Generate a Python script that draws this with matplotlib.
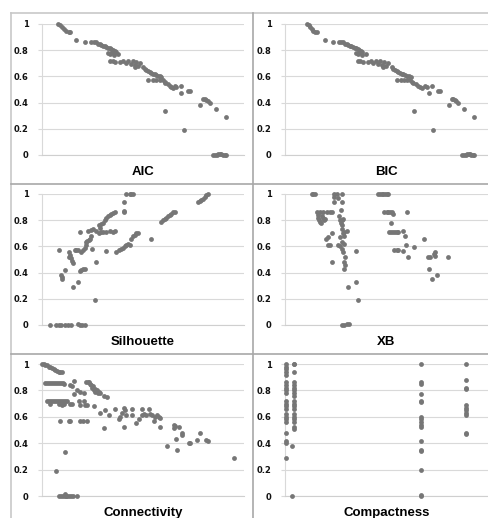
import matplotlib
matplotlib.use("Agg")
import matplotlib.pyplot as plt
from matplotlib.lines import Line2D

# ranks (x) and normalised scores (y) for each validity index
aic_x = [16, 18, 20, 22, 24, 27, 28, 34, 43,
         49, 52, 54, 56, 58, 59, 61, 63, 64, 66, 68, 69, 71, 73, 74, 66, 68, 70, 72,
         68, 71, 73, 76,
         78, 81, 84, 86, 89, 91, 93, 94, 96, 98, 93,
         101, 103, 104, 106, 108, 109, 111, 113, 114, 116, 118, 119,
         106, 111, 114, 118, 121, 123,
         123, 126, 128, 129, 131, 133, 134,
         123, 139, 139, 146, 148, 142, 158,
         161, 163, 164, 166, 168, 174, 184,
         171, 173, 175, 176, 178, 179, 181, 183, 184]
aic_y = [1.0, 0.99, 0.975, 0.965, 0.95, 0.94, 0.94, 0.88, 0.86,
         0.865, 0.865, 0.86, 0.85, 0.845, 0.84, 0.835, 0.83, 0.825, 0.82, 0.815, 0.81, 0.80, 0.795, 0.79, 0.78, 0.77, 0.785, 0.76,
         0.72, 0.715, 0.71, 0.77,
         0.71, 0.715, 0.70, 0.72, 0.695, 0.715, 0.69, 0.71, 0.68, 0.70, 0.67,
         0.67, 0.66, 0.65, 0.64, 0.63, 0.625, 0.62, 0.615, 0.61, 0.605, 0.60, 0.595,
         0.57, 0.57, 0.57, 0.57, 0.57, 0.56,
         0.55, 0.54, 0.53, 0.52, 0.515, 0.525, 0.52,
         0.335, 0.525, 0.475, 0.49, 0.49, 0.19, 0.38,
         0.43, 0.425, 0.42, 0.41, 0.40, 0.35, 0.29,
         0.0, 0.0, 0.0, 0.005, 0.01, 0.005, 0.0, 0.0, 0.0]

bic_x = [22, 24, 25, 27, 28, 30, 32, 40, 48,
         54, 56, 58, 60, 62, 63, 65, 66, 68, 70, 71, 73, 74, 76, 77, 71, 73, 75, 77,
         73, 75, 78, 81,
         83, 86, 88, 91, 93, 95, 97, 99, 101, 103, 98,
         107, 108, 110, 112, 113, 115, 117, 118, 120, 122, 124, 126,
         112, 116, 119, 122, 125, 127,
         128, 131, 133, 135, 137, 140, 142,
         129, 147, 144, 153, 155, 148, 164,
         167, 168, 170, 171, 173, 179, 189,
         177, 179, 181, 182, 184, 185, 186, 188, 189]
bic_y = [1.0, 0.99, 0.975, 0.965, 0.95, 0.94, 0.94, 0.88, 0.86,
         0.865, 0.865, 0.86, 0.85, 0.845, 0.84, 0.835, 0.83, 0.825, 0.82, 0.815, 0.81, 0.80, 0.795, 0.79, 0.78, 0.77, 0.785, 0.76,
         0.72, 0.715, 0.71, 0.77,
         0.71, 0.715, 0.70, 0.72, 0.695, 0.715, 0.69, 0.71, 0.68, 0.70, 0.67,
         0.67, 0.66, 0.65, 0.64, 0.63, 0.625, 0.62, 0.615, 0.61, 0.605, 0.60, 0.595,
         0.57, 0.57, 0.57, 0.57, 0.57, 0.56,
         0.55, 0.54, 0.53, 0.52, 0.515, 0.525, 0.52,
         0.335, 0.525, 0.475, 0.49, 0.49, 0.19, 0.38,
         0.43, 0.425, 0.42, 0.41, 0.40, 0.35, 0.29,
         0.0, 0.0, 0.0, 0.005, 0.01, 0.005, 0.0, 0.0, 0.0]

sil_x = [8, 14, 17, 19, 23, 26, 29, 36, 38, 40, 43,
         17, 19, 20, 20, 23,
         27, 27, 28, 29, 30, 31, 31,
         33, 34, 36, 36,
         38, 39, 41, 43,
         38, 39, 41, 43, 44,
         44, 45, 47, 48, 49,
         46, 49, 51, 50, 54, 53,
         54, 57, 58, 59, 61, 63, 64, 66, 68, 69, 71, 73,
         57, 59, 61, 64, 68, 71, 73, 64,
         74, 77, 79, 81, 83, 84, 86, 88,
         82, 82, 82, 84, 88, 89, 91,
         89, 91, 93, 94, 96, 109,
         119, 121, 123, 124, 126, 128, 129, 131, 133,
         156, 158, 159, 161, 163, 164, 166]
sil_y = [0.0, 0.0, 0.0, 0.0, 0.0, 0.0, 0.0, 0.01, 0.0, 0.0, 0.0,
         0.57, 0.38, 0.37, 0.35, 0.42,
         0.56, 0.52, 0.535, 0.51, 0.485, 0.47, 0.29,
         0.57, 0.57, 0.57, 0.33,
         0.41, 0.42, 0.425, 0.43,
         0.71, 0.56, 0.57, 0.59, 0.61,
         0.63, 0.64, 0.65, 0.66, 0.68,
         0.72, 0.725, 0.73, 0.58, 0.48, 0.19,
         0.72, 0.76, 0.74, 0.77, 0.78, 0.80, 0.82, 0.83, 0.84, 0.85, 0.855, 0.86,
         0.70, 0.71, 0.71, 0.71, 0.715, 0.71, 0.72, 0.565,
         0.56, 0.57, 0.58, 0.59, 0.60, 0.61, 0.62, 0.61,
         0.94, 0.87, 0.86, 1.0, 1.0, 1.0, 1.0,
         0.66, 0.68, 0.69, 0.70, 0.70, 0.66,
         0.79, 0.80, 0.81, 0.82, 0.83, 0.84, 0.85, 0.86, 0.86,
         0.94, 0.945, 0.955, 0.965, 0.975, 0.99, 1.0]

xb_x = [27, 28, 30,
        32, 35, 38, 42, 45, 47,
        33, 33, 34, 35, 37, 38, 40, 36, 39,
        41, 43, 43, 45, 47, 47,
        49, 49, 49, 52, 53,
        54, 55, 56, 57, 57, 58, 59, 55, 53, 55, 57, 58, 57, 59, 60, 59, 60, 59,
        57, 57, 56, 58, 57, 59, 62, 63,
        57, 59, 62, 64,
        71, 71, 73,
        93, 95, 97, 98, 100, 102, 103,
        99, 102, 103, 105, 107, 108,
        106, 104, 106, 108, 110, 112, 113,
        109, 112, 113,
        118, 120, 118, 121, 122, 123, 129, 139,
        143, 145, 149, 150, 150, 163, 144, 152, 147]
xb_y = [1.0, 1.0, 1.0,
        0.86, 0.86, 0.86, 0.86, 0.86, 0.86,
        0.84, 0.82, 0.80, 0.79, 0.83, 0.82, 0.81, 0.78, 0.80,
        0.66, 0.67, 0.61, 0.61, 0.70, 0.48,
        1.0, 0.975, 0.94, 1.0, 0.97,
        0.83, 0.80, 0.78, 0.76, 0.73, 0.70, 0.68, 0.67, 0.61, 0.60, 0.58, 0.56, 0.63, 0.62, 0.52, 0.48, 0.46, 0.43,
        1.0, 0.94, 0.875, 0.81, 0.80, 0.71, 0.72, 0.29,
        0.0, 0.0, 0.005, 0.01,
        0.565, 0.33, 0.19,
        1.0, 1.0, 1.0, 1.0, 1.0, 1.0, 1.0,
        0.86, 0.86, 0.86, 0.86, 0.86, 0.85,
        0.78, 0.71, 0.71, 0.71, 0.71, 0.71, 0.71,
        0.57, 0.57, 0.57,
        0.72, 0.68, 0.565, 0.61, 0.86, 0.52, 0.595, 0.66,
        0.52, 0.52, 0.54, 0.53, 0.555, 0.52, 0.425, 0.38, 0.35]

conn_x = [0, 2, 3, 5, 7, 8, 10, 12, 13, 15, 17, 18, 20,
          3, 5, 7, 9, 11, 13, 15, 17, 19, 21, 22,
          5, 7, 9, 11, 13, 15, 17, 19, 21, 23, 25,
          8, 17, 20, 22,
          18, 27, 28, 14, 23,
          17, 19, 21, 23, 24, 25, 27, 29, 31, 35, 23,
          28, 30, 28, 30, 32, 32,
          35, 38, 42, 44, 46, 47, 48, 49, 50, 51, 52, 53, 53, 55, 56, 57, 58, 62, 65,
          37, 38, 42, 43,
          38, 41, 45, 45, 52,
          58, 62, 63, 67, 73, 77, 78, 80, 82, 83, 84, 82, 90, 90, 94, 97,
          100, 100, 102, 104, 107, 108, 110, 112, 113, 115, 117, 118, 118,
          125, 132, 132, 133, 134, 135, 137, 140, 140, 147, 148, 155, 158, 164, 166, 192]
conn_y = [1.0, 1.0, 0.995, 0.99, 0.98, 0.975, 0.97, 0.965, 0.955, 0.945, 0.94, 0.94, 0.94,
          0.856, 0.856, 0.856, 0.856, 0.856, 0.856, 0.856, 0.856, 0.856, 0.856, 0.85,
          0.716, 0.716, 0.716, 0.716, 0.716, 0.716, 0.716, 0.716, 0.716, 0.716, 0.716,
          0.70, 0.70, 0.69, 0.70,
          0.565, 0.565, 0.565, 0.19, 0.33,
          0.0, 0.0, 0.0, 0.015, 0.0, 0.0, 0.0, 0.0, 0.0, 0.0, 0.0,
          0.70, 0.70, 0.84, 0.83, 0.875, 0.77,
          0.80, 0.79, 0.78, 0.86, 0.865, 0.86, 0.85, 0.84, 0.82, 0.83, 0.80, 0.81, 0.79, 0.80, 0.78, 0.79, 0.78, 0.76, 0.75,
          0.72, 0.69, 0.72, 0.69,
          0.565, 0.565, 0.565, 0.69, 0.68,
          0.63, 0.515, 0.65, 0.615, 0.66, 0.58, 0.60, 0.63, 0.665, 0.65, 0.615, 0.52, 0.66, 0.615, 0.55, 0.58,
          0.66, 0.615, 0.62, 0.615, 0.66, 0.62, 0.615, 0.565, 0.60, 0.615, 0.60, 0.59, 0.52,
          0.38, 0.515, 0.54, 0.53, 0.43, 0.35, 0.52, 0.48, 0.465, 0.405, 0.40, 0.425, 0.48, 0.425, 0.42, 0.285]

comp_x = [1] * 22 + [7, 7] + [9] * 19 + [136] * 17 + [181] * 11
comp_y = [1.0, 0.98, 0.96, 0.94, 0.92, 0.86, 0.84, 0.82, 0.80, 0.78, 0.72,
          0.70, 0.68, 0.66, 0.62, 0.60, 0.58, 0.56, 0.48, 0.42, 0.40, 0.29,
          0.0, 0.38,
          1.0, 1.0, 0.94, 0.86, 0.84, 0.82, 0.80, 0.78, 0.76, 0.72, 0.70,
          0.68, 0.66, 0.62, 0.60, 0.58, 0.56, 0.52, 0.51,
          1.0, 0.86, 0.85, 0.77, 0.72, 0.71, 0.60, 0.58, 0.56, 0.54, 0.52,
          0.42, 0.35, 0.34, 0.20, 0.01, 0.0,
          1.0, 0.88, 0.82, 0.81, 0.69, 0.67, 0.65, 0.63, 0.61, 0.48, 0.47]

panels = [("AIC", aic_x, aic_y), ("BIC", bic_x, bic_y),
          ("Silhouette", sil_x, sil_y), ("XB", xb_x, xb_y),
          ("Connectivity", conn_x, conn_y), ("Compactness", comp_x, comp_y)]

W, H = 489, 518
fig = plt.figure(figsize=(W / 100, H / 100), dpi=100)

cols = [(42, 244), (285, 488)]
rows = [(24, 155), (194, 325), (364, 496)]

for i, (name, xs, ys) in enumerate(panels):
    r, c = divmod(i, 2)
    x0, x1 = cols[c]
    yt, yb = rows[r]
    ax = fig.add_axes([x0 / W, 1 - yb / H, (x1 - x0) / W, (yb - yt) / H])
    ax.scatter(xs, ys, s=12, color="#767676", linewidths=0, clip_on=False, zorder=3)
    ax.set_xlim(0, x1 - x0)
    ax.set_ylim(0, 1)
    ax.set_yticks([0, 0.2, 0.4, 0.6, 0.8, 1.0])
    ax.set_yticklabels(["0", "0.2", "0.4", "0.6", "0.8", "1"])
    ax.set_xticks([])
    ax.grid(axis="y", color="#d9d9d9", linewidth=0.8)
    ax.set_axisbelow(True)
    for s in ["top", "right"]:
        ax.spines[s].set_visible(False)
    ax.spines["left"].set_color("#d9d9d9")
    ax.spines["bottom"].set_color("#cfcfcf")
    ax.tick_params(axis="y", length=3, color="#d9d9d9", pad=6.5,
                   labelsize=6, labelcolor="#111111")
    for lbl in ax.get_yticklabels():
        lbl.set_fontweight("bold")
    fig.text((x0 + x1) / 2 / W, 1 - (yb + 17) / H, name, ha="center", va="center",
             fontsize=9.5, fontweight="bold", family="Liberation Sans")

# chart-area border lines
border = "#a8a8a8"
fig.add_artist(Line2D([11 / W, 1], [1 - 13 / H, 1 - 13 / H], color="#c8c8c8", lw=1.2))
fig.add_artist(Line2D([11 / W, 11 / W], [0, 1 - 13 / H], color="#c8c8c8", lw=1.2))
fig.add_artist(Line2D([253 / W, 253 / W], [0, 1 - 13 / H], color=border, lw=1.2))
for yy in [184, 354]:
    fig.add_artist(Line2D([11 / W, 1], [1 - yy / H, 1 - yy / H], color=border, lw=1.2))

fig.savefig("out.png", dpi=100)
